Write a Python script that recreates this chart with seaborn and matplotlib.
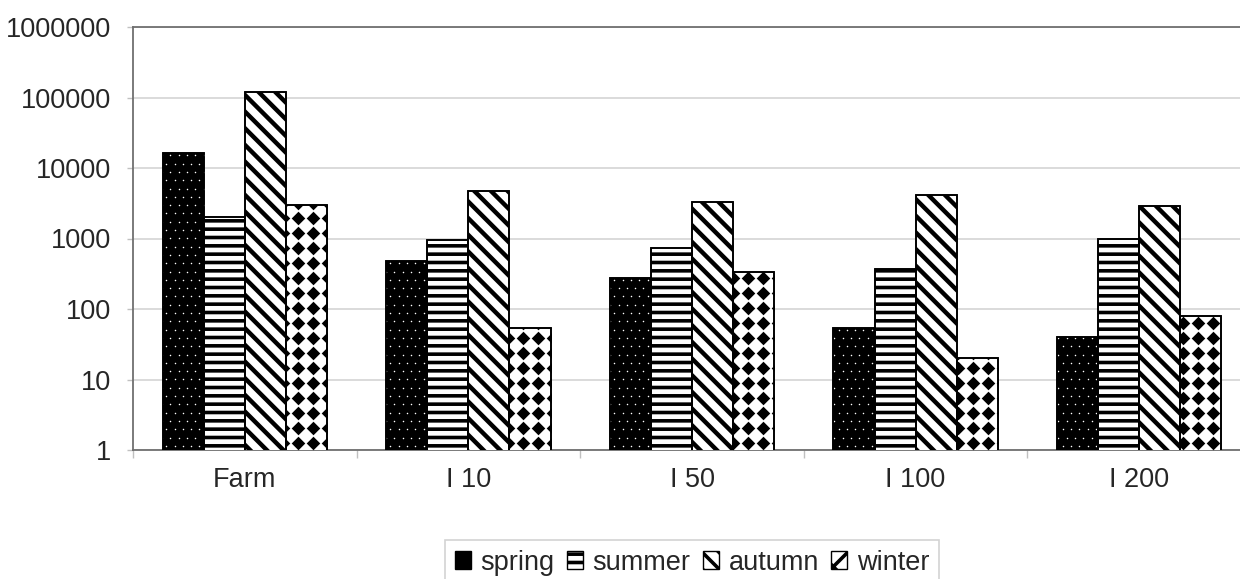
import numpy as np
import pandas as pd
import matplotlib
matplotlib.use('Agg')
import matplotlib.pyplot as plt
import seaborn as sns
from matplotlib.patches import Patch
from matplotlib.ticker import FixedLocator, NullLocator

# values
sites = ['Farm', 'I 10', 'I 50', 'I 100', 'I 200']
seasons = ['spring', 'summer', 'autumn', 'winter']
spring = [16200, 480, 275, 53, 40]
summer = [2000, 950, 730, 370, 1000]
autumn = [120000, 4700, 3300, 4100, 2900]
winter = [3000, 54, 340, 20, 80]
y_ticks = [1, 10, 100, 1000, 10000, 100000, 1000000]

df = pd.DataFrame({
    'site': sites * 4,
    'season': np.repeat(seasons, len(sites)),
    'value': spring + summer + autumn + winter,
})

sns.set_theme(style='white')
plt.rcParams['font.family'] = ['Liberation Sans', 'DejaVu Sans']
plt.rcParams['hatch.linewidth'] = 2.6

fills = {'spring': 'black', 'summer': 'white', 'autumn': 'white', 'winter': 'white'}
hatches = {'spring': None, 'summer': '--', 'autumn': '\\\\', 'winter': None}
hatch_lw = {'spring': 1.0, 'summer': 2.6, 'autumn': 3.2, 'winter': 1.0}

W, H = 1240, 579
AW, AH = 1118, 423
fig = plt.figure(figsize=(W / 100, H / 100), dpi=100)
ax = fig.add_axes([133 / W, 1 - 450 / H, AW / W, AH / H])

sns.barplot(data=df, x='site', y='value', hue='season', order=sites,
            hue_order=seasons, palette=fills, width=0.735, gap=0,
            edgecolor='black', linewidth=1.2, legend=False, ax=ax, zorder=3)
ax.set_yscale('log')
bar_groups = list(ax.containers)

# texture for each season
for season, cont in zip(seasons, bar_groups):
    for bar in cont:
        bar.set_facecolor(fills[season])
        bar.set_edgecolor('black')
        if hatches[season]:
            bar.set_hatch(hatches[season])
            if hasattr(bar, 'set_hatch_linewidth'):
                bar.set_hatch_linewidth(hatch_lw[season])


def dot_texture(bars, step, stagger, marker, size, color):
    # grid of small markers in pixel spacing, clipped to each bar
    gx, gy = [], []
    for i, yy in enumerate(np.arange(step / 2, AH, step)):
        off = step / 2 if (stagger and i % 2) else 0
        for xx in np.arange(off, AW, step):
            gx.append(xx / AW)
            gy.append(yy / AH)
    for bar in bars:
        pts = ax.scatter(gx, gy, s=size, c=color, marker=marker, linewidths=0,
                         transform=ax.transAxes, zorder=4)
        pts.set_clip_path(bar)


dot_texture(bar_groups[0], 8.3, True, 'o', 1.2, 'white')
dot_texture(bar_groups[3], 15.0, False, 'D', 48, 'black')

# bar outlines on top of the textures
for cont in bar_groups:
    for bar in cont:
        ax.bar(bar.get_x(), bar.get_height(), width=bar.get_width(), align='edge',
               fill=False, edgecolor='black', linewidth=1.2, zorder=6)

ax.set_xlim(-0.5, len(sites) - 0.5)
ax.set_ylim(1, 1000000)

ax.yaxis.set_major_locator(FixedLocator(y_ticks))
ax.yaxis.set_minor_locator(NullLocator())
ax.set_yticklabels([str(v) for v in y_ticks])
ax.grid(axis='y', color='#d4d4d4', linewidth=1.2, zorder=0)
ax.set_axisbelow(True)

ax.set_xticks(range(len(sites)))
ax.set_xticklabels(sites)
ax.set_xticks(np.arange(-0.5, len(sites), 1), minor=True)
ax.tick_params(axis='x', which='major', length=0, pad=12, labelsize=19.5)
ax.tick_params(axis='x', which='minor', length=6, width=1, color='#c0c0c0',
               direction='out', bottom=True)
ax.tick_params(axis='y', length=4.5, width=1, color='#c0c0c0', pad=11,
               labelsize=19.5, left=True)
ax.set_xlabel('')
ax.set_ylabel('')

for side in ['left', 'bottom', 'top']:
    ax.spines[side].set_color('#707070')
    ax.spines[side].set_linewidth(1.3)
ax.spines['right'].set_visible(False)

legend_hatch = {'spring': None, 'summer': '--', 'autumn': '\\\\', 'winter': 'x'}
handles = []
for season in seasons:
    handles.append(Patch(facecolor=fills[season], edgecolor='black',
                         hatch=legend_hatch[season], linewidth=1, label=season))
leg = ax.legend(handles=handles, loc='upper center',
                bbox_to_anchor=((692 - 133) / AW, -0.213),
                ncol=4, fontsize=19.5, frameon=True, fancybox=False,
                edgecolor='#c8c8c8', handlelength=0.6, handleheight=0.6,
                handletextpad=0.35, columnspacing=0.45, borderpad=0.35,
                borderaxespad=0)
leg.get_frame().set_linewidth(1.2)

fig.savefig('out.png', dpi=100)
